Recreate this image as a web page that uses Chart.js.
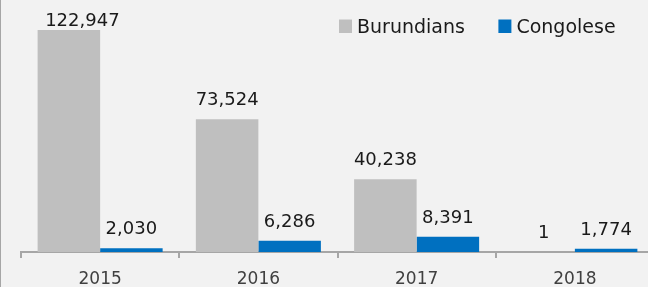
<!DOCTYPE html>
<html>
<head>
<meta charset="utf-8">
<script src="https://cdn.jsdelivr.net/npm/chart.js@4.4.1/dist/chart.umd.min.js"></script>
<style>
  html, body { margin: 0; padding: 0; background: #f2f2f2; }
  #wrap { position: relative; width: 648px; height: 287px; overflow: hidden; background: #f2f2f2; }
  #wrap canvas { position: absolute; left: 0; top: 0; }
  #edge { position: absolute; left: 0; top: 0; width: 1px; height: 287px; background: #a6a6a6; }
</style>
</head>
<body>
<div id="wrap">
  <canvas id="c" width="660" height="287" style="width:660px;height:287px"></canvas>
  <div id="edge"></div>
</div>
<script>
const categories = ['2015', '2016', '2017', '2018'];
const seriesNames = ['Burundians', 'Congolese'];
const burundians = [122947, 73524, 40238, 1];
const congolese = [2030, 6286, 8391, 1774];
const seriesColors = ['#bfbfbf', '#0070c0'];

const FONT = '"DejaVu Sans", Verdana, sans-serif';

const valueLabels = {
  id: 'valueLabels',
  afterDatasetsDraw(chart) {
    const ctx = chart.ctx;
    ctx.save();
    ctx.font = '18px ' + FONT;
    ctx.fillStyle = '#1a1a1a';
    ctx.textAlign = 'center';
    ctx.textBaseline = 'alphabetic';
    chart.data.datasets.forEach((ds, di) => {
      const meta = chart.getDatasetMeta(di);
      meta.data.forEach((bar, i) => {
        let x = bar.x;
        let y = bar.y - 14;
        if (y < 25.5) { y = 25.5; x += 13.5; }
        ctx.fillText(ds.data[i].toLocaleString('en-US'), x, y);
      });
    });
    ctx.restore();
  }
};

const insideLegend = {
  id: 'insideLegend',
  afterDraw(chart) {
    const ctx = chart.ctx;
    ctx.save();
    ctx.font = '19px ' + FONT;
    ctx.textBaseline = 'alphabetic';
    ctx.textAlign = 'left';
    let x = 339;
    chart.data.datasets.forEach((ds) => {
      ctx.fillStyle = ds.backgroundColor;
      ctx.fillRect(x, 19.5, 13, 13.5);
      ctx.fillStyle = '#1a1a1a';
      ctx.fillText(ds.label, x + 18, 33);
      x += 18 + ctx.measureText(ds.label).width + 33.5;
    });
    ctx.restore();
  }
};

new Chart(document.getElementById('c'), {
  type: 'bar',
  data: {
    labels: categories,
    datasets: [
      { label: seriesNames[0], data: burundians, backgroundColor: seriesColors[0] },
      { label: seriesNames[1], data: congolese, backgroundColor: seriesColors[1] }
    ]
  },
  options: {
    responsive: false,
    devicePixelRatio: 1,
    animation: false,
    layout: { padding: { left: 21, right: 6, top: 0, bottom: 0 } },
    datasets: { bar: { categoryPercentage: 0.79, barPercentage: 1.0 } },
    plugins: { legend: { display: false }, tooltip: { enabled: false } },
    scales: {
      x: {
        grid: { display: true, drawOnChartArea: false, drawTicks: true, tickLength: 6, color: '#a6a6a6', lineWidth: 2, offset: true },
        border: { display: true, color: '#a6a6a6', width: 2 },
        ticks: { color: '#404040', font: { family: FONT, size: 17 }, padding: 11, maxRotation: 0 },
        afterFit(scale) { scale.height = 35; }
      },
      y: { display: false, min: 0, max: 139500 }
    }
  },
  plugins: [valueLabels, insideLegend]
});
</script>
</body>
</html>
